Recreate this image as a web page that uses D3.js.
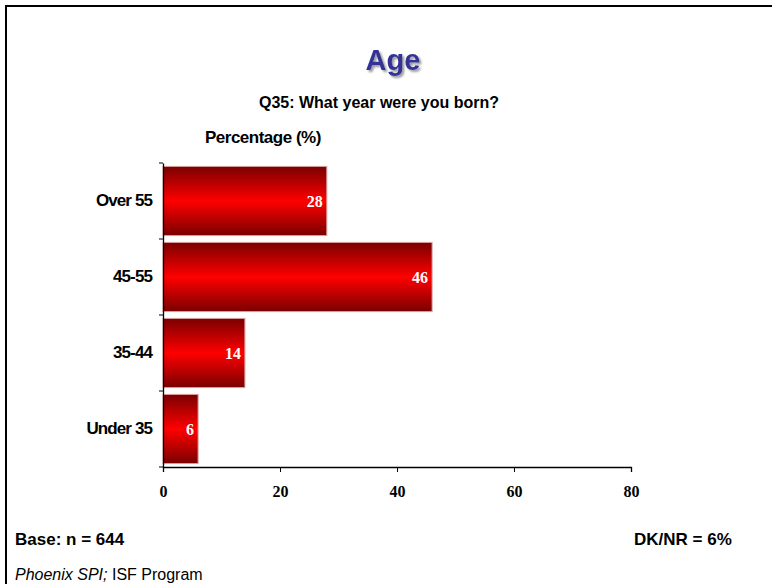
<!DOCTYPE html>
<html>
<head>
<meta charset="utf-8">
<script src="https://cdn.jsdelivr.net/npm/d3@7"></script>
<style>
  body { margin: 0; background: #fff; }
  svg { display: block; }
</style>
</head>
<body>
<svg id="plot" width="772" height="584"></svg>
<script>
// chart data
var categories = ['Over 55', '45-55', '35-44', 'Under 35'];
var values = [28, 46, 14, 6];
var xTicks = [0, 20, 40, 60, 80];

var svg = d3.select('#plot');
var sans = 'Arial, "Liberation Sans", sans-serif';
var serif = '"Liberation Serif", "Times New Roman", serif';

// frame (only top and left edges are visible in the picture)
svg.append('path')
  .attr('d', 'M6,590 L6,6 L780,6')
  .attr('fill', 'none')
  .attr('stroke', '#000')
  .attr('stroke-width', 2);

// gradient for the bars
var defs = svg.append('defs');
var grad = defs.append('linearGradient')
  .attr('id', 'barGrad')
  .attr('x1', 0).attr('y1', 0).attr('x2', 0).attr('y2', 1);
grad.append('stop').attr('offset', '0%').attr('stop-color', '#7a0000');
grad.append('stop').attr('offset', '50%').attr('stop-color', '#ff0000');
grad.append('stop').attr('offset', '100%').attr('stop-color', '#7a0000');

var shadow = defs.append('filter').attr('id', 'shadow');
shadow.append('feDropShadow')
  .attr('dx', 2).attr('dy', 2).attr('stdDeviation', 1.2)
  .attr('flood-color', '#999');

// scales
var xScale = d3.scaleLinear().domain([0, 80]).range([163, 631]);
var yScale = d3.scaleBand().domain(categories).range([163, 467]).paddingInner(0.09).paddingOuter(0.045);

// titles
svg.append('text')
  .attr('x', 393).attr('y', 70)
  .attr('text-anchor', 'middle')
  .attr('font-family', sans)
  .attr('font-weight', 'bold')
  .attr('font-size', 29)
  .attr('fill', '#333399')
  .attr('filter', 'url(#shadow)')
  .text('Age');

svg.append('text')
  .attr('x', 379).attr('y', 108)
  .attr('text-anchor', 'middle')
  .attr('font-family', sans)
  .attr('font-weight', 'bold')
  .attr('font-size', 16)
  .text('Q35: What year were you born?');

svg.append('text')
  .attr('x', 205).attr('y', 143)
  .attr('font-family', sans)
  .attr('font-weight', 'bold')
  .attr('font-size', 17)
  .attr('letter-spacing', -0.5)
  .text('Percentage (%)');

// bars
svg.selectAll('rect.bar')
  .data(values)
  .enter()
  .append('rect')
  .attr('class', 'bar')
  .attr('x', xScale(0))
  .attr('y', function (d, i) { return yScale(categories[i]); })
  .attr('width', function (d) { return xScale(d) - xScale(0); })
  .attr('height', yScale.bandwidth())
  .attr('fill', 'url(#barGrad)')
  .attr('stroke', '#d8a0a0')
  .attr('stroke-width', 1);

// value labels
svg.selectAll('text.val')
  .data(values)
  .enter()
  .append('text')
  .attr('class', 'val')
  .attr('x', function (d) { return xScale(d) - 4; })
  .attr('y', function (d, i) { return yScale(categories[i]) + yScale.bandwidth() / 2 + 6; })
  .attr('text-anchor', 'end')
  .attr('font-family', serif)
  .attr('font-weight', 'bold')
  .attr('font-size', 16)
  .attr('fill', '#fff')
  .text(function (d) { return d; });

// y axis
var yAxis = d3.axisLeft(yScale).tickSize(0).tickPadding(11);
var yG = svg.append('g')
  .attr('transform', 'translate(' + xScale(0) + ',0)')
  .call(yAxis);
yG.select('.domain').attr('stroke', '#000').attr('stroke-width', 1.3);
yG.selectAll('text')
  .attr('font-family', sans)
  .attr('font-weight', 'bold')
  .attr('font-size', 17)
  .attr('letter-spacing', -0.9)
  .attr('fill', '#000');

// y axis tick marks between categories
var boundaries = [163, 239, 315, 391, 467];
svg.selectAll('line.ytick')
  .data(boundaries)
  .enter()
  .append('line')
  .attr('class', 'ytick')
  .attr('x1', xScale(0) - 4).attr('x2', xScale(0))
  .attr('y1', function (d) { return d; })
  .attr('y2', function (d) { return d; })
  .attr('stroke', '#000');

// x axis
var xAxis = d3.axisBottom(xScale).tickValues(xTicks).tickSize(5).tickSizeOuter(5).tickPadding(14);
var xG = svg.append('g')
  .attr('transform', 'translate(0,467)')
  .call(xAxis);
xG.select('.domain').attr('stroke', '#000').attr('stroke-width', 1.3);
xG.selectAll('text')
  .attr('font-family', serif)
  .attr('font-weight', 'bold')
  .attr('font-size', 16)
  .attr('fill', '#000');

// footer
svg.append('text')
  .attr('x', 15).attr('y', 545)
  .attr('font-family', sans)
  .attr('font-weight', 'bold')
  .attr('font-size', 17)
  .text('Base: n = 644');

svg.append('text')
  .attr('x', 634).attr('y', 545)
  .attr('font-family', sans)
  .attr('font-weight', 'bold')
  .attr('font-size', 17)
  .text('DK/NR = 6%');

var src = svg.append('text')
  .attr('x', 15).attr('y', 580)
  .attr('font-family', sans)
  .attr('font-size', 16);
src.append('tspan').attr('font-style', 'italic').text('Phoenix SPI;');
src.append('tspan').text(' ISF Program');
</script>
</body>
</html>
